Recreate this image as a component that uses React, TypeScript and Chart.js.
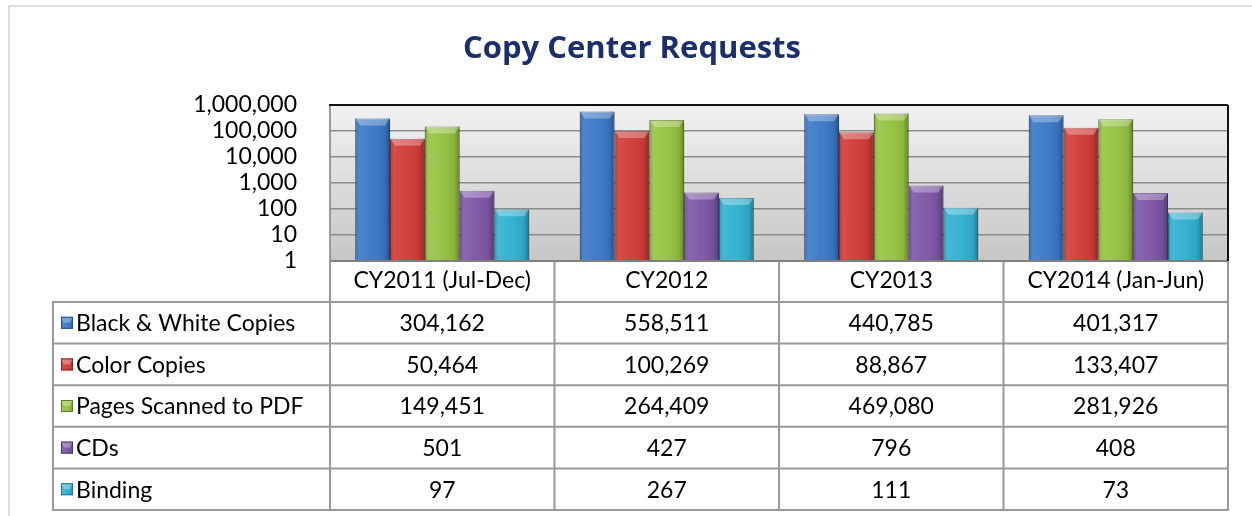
import React, { useEffect, useRef } from 'react';
import { Chart, registerables } from 'chart.js';

Chart.register(...registerables);

const chartTitle = 'Copy Center Requests';
const categories = ['CY2011 (Jul-Dec)', 'CY2012', 'CY2013', 'CY2014 (Jan-Jun)'];
const seriesNames = ['Black & White Copies', 'Color Copies', 'Pages Scanned to PDF', 'CDs', 'Binding'];
const bwCopies = [304162, 558511, 440785, 401317];
const colorCopies = [50464, 100269, 88867, 133407];
const pagesScanned = [149451, 264409, 469080, 281926];
const cds = [501, 427, 796, 408];
const binding = [97, 267, 111, 73];
const seriesValues = [bwCopies, colorCopies, pagesScanned, cds, binding];
const yTicks = [1, 10, 100, 1000, 10000, 100000, 1000000];
const seriesColors = ['#3A78C6', '#D23A36', '#95C241', '#7D55A6', '#2FB0D0'];
const seriesBorders = ['#23518C', '#8C2522', '#5E7D26', '#4D336E', '#1C7890'];

const FONT = 'Lato, "Noto Sans", sans-serif';
const TITLE_FONT = '"Open Sans", Lato, sans-serif';
const fmt = (v: number) => Number(v).toLocaleString('en-US');

function line(ctx: CanvasRenderingContext2D, x1: number, y1: number, x2: number, y2: number) {
  ctx.beginPath();
  ctx.moveTo(x1, y1);
  ctx.lineTo(x2, y2);
  ctx.stroke();
}

function bevelBar(ctx: CanvasRenderingContext2D, l: number, t: number, w: number, h: number) {
  const r = l + w;
  const hg = ctx.createLinearGradient(l, 0, r, 0);
  hg.addColorStop(0, 'rgba(0,0,0,0.22)');
  hg.addColorStop(0.12, 'rgba(255,255,255,0.10)');
  hg.addColorStop(0.45, 'rgba(255,255,255,0.04)');
  hg.addColorStop(0.85, 'rgba(0,0,0,0.08)');
  hg.addColorStop(1, 'rgba(0,0,0,0.32)');
  ctx.fillStyle = hg;
  ctx.fillRect(l, t, w, h);
  const bv = Math.min(7, h / 2);
  const inset = Math.min(5, w / 4);
  ctx.beginPath();
  ctx.moveTo(l, t);
  ctx.lineTo(r, t);
  ctx.lineTo(r - inset, t + bv);
  ctx.lineTo(l + inset, t + bv);
  ctx.closePath();
  ctx.fillStyle = 'rgba(255,255,255,0.30)';
  ctx.fill();
}

const decorPlugin = {
  id: 'decor',
  beforeDraw(chart: any) {
    const { ctx, chartArea: a } = chart;
    ctx.save();
    ctx.fillStyle = '#ffffff';
    ctx.fillRect(0, 0, chart.width, chart.height);
    ctx.strokeStyle = '#D2D2D2';
    ctx.lineWidth = 1.5;
    ctx.strokeRect(9, 6, chart.width + 20, chart.height + 20);
    const g = ctx.createLinearGradient(0, a.top, 0, a.bottom);
    g.addColorStop(0, '#F2F2F2');
    g.addColorStop(1, '#C6C6C6');
    ctx.fillStyle = g;
    ctx.fillRect(a.left, a.top, a.right - a.left, a.bottom - a.top);
    ctx.restore();
  },
  afterDatasetsDraw(chart: any) {
    const { ctx, chartArea: a } = chart;
    ctx.save();
    chart.data.datasets.forEach((_ds: any, di: number) => {
      const meta = chart.getDatasetMeta(di);
      meta.data.forEach((el: any) => {
        const { x, y, base, width } = el.getProps(['x', 'y', 'base', 'width'], true);
        const l = x - width / 2;
        const t = Math.min(y, base);
        const b = Math.max(y, base);
        bevelBar(ctx, l, t, width, b - t);
      });
    });
    ctx.lineWidth = 2;
    ctx.strokeStyle = '#9A9A9A';
    line(ctx, a.left, a.top, a.left, a.bottom);
    ctx.strokeStyle = '#7F7F7F';
    line(ctx, a.left, a.bottom, a.right, a.bottom);
    ctx.strokeStyle = '#111111';
    line(ctx, a.left - 1, a.top, a.right, a.top);
    line(ctx, a.right, a.top, a.right, a.bottom);
    ctx.restore();
  },
  afterDraw(chart: any) {
    const { ctx, chartArea: a } = chart;
    const xs = chart.scales.x;
    const n = categories.length;
    const catW = (a.right - a.left) / n;
    const bounds: number[] = [];
    for (let i = 0; i <= n; i++) bounds.push(a.left + i * catW);
    const headerBottom = a.bottom + 41;
    const rowH = 41.6;
    const tableLeft = 53;
    const tableBottom = headerBottom + rowH * seriesNames.length;
    ctx.save();
    ctx.strokeStyle = '#999999';
    ctx.lineWidth = 2;
    bounds.forEach((b) => line(ctx, b, a.bottom, b, tableBottom));
    line(ctx, tableLeft, headerBottom, tableLeft, tableBottom);
    for (let r = 0; r <= seriesNames.length; r++) {
      const y = headerBottom + r * rowH;
      line(ctx, tableLeft - 1, y, a.right + 1, y);
    }
    ctx.font = `23px ${FONT}`;
    ctx.fillStyle = '#000000';
    ctx.textBaseline = 'middle';
    seriesNames.forEach((name, r) => {
      const cy = headerBottom + r * rowH + rowH / 2;
      const kx = 61, ky = cy - 6, ks = 12;
      ctx.fillStyle = seriesColors[r];
      ctx.fillRect(kx, ky, ks, ks);
      bevelBar(ctx, kx, ky, ks, ks);
      ctx.strokeStyle = seriesBorders[r];
      ctx.lineWidth = 1;
      ctx.strokeRect(kx + 0.5, ky + 0.5, ks - 1, ks - 1);
      ctx.fillStyle = '#000000';
      ctx.textAlign = 'left';
      ctx.fillText(name, 76, cy + 1);
      ctx.textAlign = 'center';
      seriesValues[r].forEach((v, i) => {
        ctx.fillText(fmt(v), xs.getPixelForValue(i), cy + 1);
      });
    });
    ctx.restore();
  },
};

export default function App() {
  const canvasRef = useRef<HTMLCanvasElement | null>(null);

  useEffect(() => {
    if (!canvasRef.current) return;
    const chart = new Chart(canvasRef.current, {
      type: 'bar',
      data: {
        labels: categories,
        datasets: seriesNames.map((name, i) => ({
          label: name,
          data: seriesValues[i],
          backgroundColor: seriesColors[i],
          borderColor: seriesBorders[i],
          borderWidth: 1,
          categoryPercentage: 0.775,
          barPercentage: 1,
        })),
      },
      options: {
        responsive: true,
        maintainAspectRatio: false,
        animation: false,
        layout: { padding: { left: 36, right: 24, top: 0, bottom: 0 } },
        plugins: {
          legend: { display: false },
          tooltip: { enabled: false },
          title: {
            display: true,
            text: chartTitle,
            color: '#1B2F6D',
            font: { family: TITLE_FONT, size: 31, weight: 'bold' },
            padding: { top: 31, bottom: 36.8 },
          },
        },
        scales: {
          x: {
            grid: { display: false, drawTicks: false },
            border: { display: false },
            ticks: {
              font: { family: FONT, size: 23 },
              color: '#000000',
              padding: 6,
              maxRotation: 0,
              autoSkip: false,
            },
            afterFit: (s: any) => {
              s.height = 255;
            },
          },
          y: {
            type: 'logarithmic',
            min: 1,
            max: 1000000,
            grid: { color: '#8C8C8C', lineWidth: 1.5, drawTicks: false },
            border: { display: false },
            ticks: {
              font: { family: FONT, size: 23 },
              color: '#000000',
              padding: 33,
              autoSkip: false,
              callback: (v: any) => fmt(Number(v)),
            },
            afterBuildTicks: (s: any) => {
              s.ticks = yTicks.map((v) => ({ value: v }));
            },
            afterFit: (s: any) => {
              s.width = 294;
            },
          },
        },
      },
      plugins: [decorPlugin],
    } as any);
    return () => chart.destroy();
  }, []);

  return (
    <div style={{ position: 'fixed', left: 0, top: 0, width: 1252, height: 516, background: '#fff' }}>
      <canvas ref={canvasRef} />
    </div>
  );
}
